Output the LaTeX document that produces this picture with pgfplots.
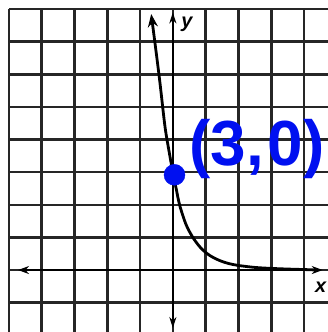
\documentclass[border=0pt]{standalone}
\usepackage{pgfplots}
\pgfplotsset{compat=1.18}
\usepackage{fontspec}
\setmainfont{Liberation Sans}
\usetikzlibrary{arrows.meta}
\definecolor{gridgray}{HTML}{262626}
\definecolor{penblue}{HTML}{0010F0}
\begin{document}
\begin{tikzpicture}
\begin{axis}[
  scale only axis,
  width=328bp, height=332bp,
  xmin=-5.27, xmax=4.73,
  ymin=-1.90, ymax=8.28,
  axis lines=none,
  ticks=none,
  clip=true,
]
% graph-paper grid: one unit per square
\foreach \gx in {-5,...,4} {
  \edef\tmp{\noexpand\draw[gridgray, line width=2.6bp] (axis cs:\gx,-1.9) -- (axis cs:\gx,8);}
  \tmp
}
\foreach \gy in {-1,...,8} {
  \edef\tmp{\noexpand\draw[gridgray, line width=2.6bp] (axis cs:-5,\gy) -- (axis cs:4.73,\gy);}
  \tmp
}
% coordinate axes with arrowheads
\draw[black, line width=2.8bp, {Stealth[length=11bp,width=8bp]}-{Stealth[length=11bp,width=8bp]}]
  (axis cs:-4.72,0) -- (axis cs:4.57,0);
\draw[black, line width=2.2bp, {Stealth[length=11bp,width=7bp]}-{Stealth[length=11bp,width=7bp]}]
  (axis cs:0,-1.78) -- (axis cs:0,7.9);
% decaying curve
\addplot[black, line width=2.8bp, smooth, tension=0.5, {Stealth[length=13bp,width=10bp]}-]
  coordinates {
  (-0.66,7.85) (-0.55,7.0) (-0.4,5.8) (-0.24,4.4) (-0.1,3.55) (0,3.0)
  (0.1,2.5) (0.21,1.98) (0.4,1.4) (0.61,1.0) (0.85,0.68) (1.12,0.45)
  (1.43,0.29) (1.7,0.2) (2.0,0.14) (2.5,0.08) (3.0,0.05) (3.5,0.03)
  (4.0,0.015) (4.4,0.0)
  };
% highlighted intercept
\addplot[only marks, mark=*, penblue, mark size=10.5bp, mark options={fill=penblue, draw=penblue}]
  coordinates {(0.05,2.92)};
\node[penblue, anchor=west, inner sep=0pt, font=\bfseries\fontsize{64}{64}\selectfont]
  at (axis cs:0.5,3.7) {(3,\kern4bp0)};
% axis names
\node[font=\bfseries\itshape\fontsize{20}{20}\selectfont, inner sep=0pt] at (axis cs:0.43,7.55) {y};
\node[font=\bfseries\itshape\fontsize{20}{20}\selectfont, inner sep=0pt] at (axis cs:4.51,-0.52) {x};
\end{axis}
\pgfresetboundingbox
\path[use as bounding box] (0,0) rectangle (328bp,332bp);
\end{tikzpicture}
\end{document}
